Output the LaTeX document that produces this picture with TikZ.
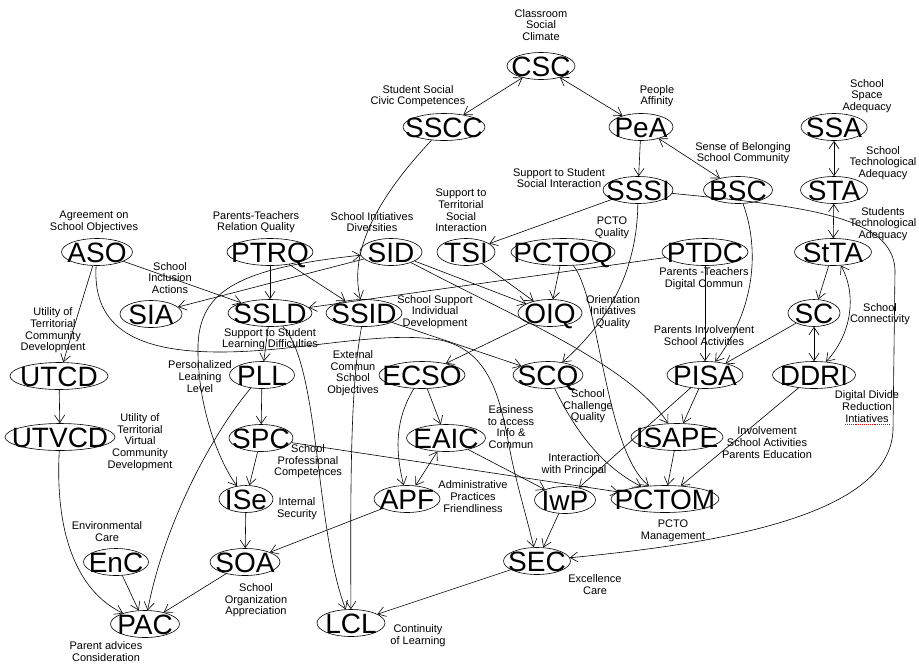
\documentclass[tikz,border=0pt]{standalone}
\usepackage{fontspec}
\setmainfont{Liberation Sans}
\usetikzlibrary{arrows.meta,shapes.geometric}
\newcommand\ntxt[1]{\fontsize{28}{28}\selectfont\smash{\raisebox{-0.36em}{\makebox[0pt]{#1}}}}
\begin{document}
\begin{tikzpicture}[x=1pt,y=-1pt,
  v/.style={draw, ellipse, inner sep=0pt, line width=0.6pt, minimum height=27pt},
  lab/.style={align=center, font=\fontsize{11}{11.6}\selectfont, inner sep=0pt},
  arr/.style={-{Straight Barb[length=7.5pt,width=10pt]}, line width=0.6pt},
  darr/.style={{Straight Barb[length=7.5pt,width=10pt]}-{Straight Barb[length=7.5pt,width=10pt]}, line width=0.6pt}]
\useasboundingbox (0,0) rectangle (919,665);
% nodes
\node[v, minimum width=68pt] (CSC) at (541,66) {\ntxt{CSC}};
\node[v, minimum width=82pt] (SSCC) at (444,127) {\ntxt{SSCC}};
\node[v, minimum width=64pt] (PeA) at (641,127) {\ntxt{PeA}};
\node[v, minimum width=70pt] (SSSI) at (638,190) {\ntxt{SSSI}};
\node[v, minimum width=69pt] (BSC) at (738,190) {\ntxt{BSC}};
\node[v, minimum width=66pt] (SSA) at (834,127) {\ntxt{SSA}};
\node[v, minimum width=67pt] (STA) at (834,190) {\ntxt{STA}};
\node[v, minimum width=77pt] (StTA) at (833,252) {\ntxt{StTA}};
\node[v, minimum width=71pt] (ASO) at (97,252) {\ntxt{ASO}};
\node[v, minimum width=86pt] (PTRQ) at (270,252) {\ntxt{PTRQ}};
\node[v, minimum width=62pt] (SID) at (391,252) {\ntxt{SID}};
\node[v, minimum width=58pt] (TSI) at (466,252) {\ntxt{TSI}};
\node[v, minimum width=104pt] (PCTOQ) at (563,252) {\ntxt{PCTOQ}};
\node[v, minimum width=86pt] (PTDC) at (705,252) {\ntxt{PTDC}};
\node[v, minimum width=62pt] (SIA) at (151,314) {\ntxt{SIA}};
\node[v, minimum width=84pt] (SSLD) at (270,313) {\ntxt{SSLD}};
\node[v, minimum width=76pt] (SSID) at (364,313) {\ntxt{SSID}};
\node[v, minimum width=64pt] (OIQ) at (550,313) {\ntxt{OIQ}};
\node[v, minimum width=52pt] (SC) at (814,313) {\ntxt{SC}};
\node[v, minimum width=98pt] (UTCD) at (59,376) {\ntxt{UTCD}};
\node[v, minimum width=65pt] (PLL) at (262,375) {\ntxt{PLL}};
\node[v, minimum width=86pt] (ECSO) at (422,375) {\ntxt{ECSO}};
\node[v, minimum width=70pt] (SCQ) at (548,375) {\ntxt{SCQ}};
\node[v, minimum width=76pt] (PISA) at (705,375) {\ntxt{PISA}};
\node[v, minimum width=83pt] (DDRI) at (814,375) {\ntxt{DDRI}};
\node[v, minimum width=110pt] (UTVCD) at (60,437) {\ntxt{UTVCD}};
\node[v, minimum width=64pt] (SPC) at (261,438) {\ntxt{SPC}};
\node[v, minimum width=79pt] (EAIC) at (446,438) {\ntxt{EAIC}};
\node[v, minimum width=92pt] (ISAPE) at (677,437) {\ntxt{ISAPE}};
\node[v, minimum width=54pt] (ISe) at (246,499) {\ntxt{ISe}};
\node[v, minimum width=66pt] (APF) at (407,499) {\ntxt{APF}};
\node[v, minimum width=61pt] (IwP) at (565,500) {\ntxt{IwP}};
\node[v, minimum width=108pt] (PCTOM) at (665,499) {\ntxt{PCTOM}};
\node[v, minimum width=65pt] (EnC) at (116,562) {\ntxt{EnC}};
\node[v, minimum width=70pt] (SOA) at (245,562) {\ntxt{SOA}};
\node[v, minimum width=67pt] (SEC) at (537,561) {\ntxt{SEC}};
\node[v, minimum width=69pt] (PAC) at (145,624) {\ntxt{PAC}};
\node[v, minimum width=68pt] (LCL) at (351,623) {\ntxt{LCL}};
% labels
\node[lab] (lCSC) at (541,25) {Classroom\\Social\\Climate};
\node[lab] (lSSCC) at (418,96) {Student Social\\Civic Competences};
\node[lab] (lPeA) at (657,96) {People\\Affinity};
\node[lab] (lBSC) at (743,153) {Sense of Belonging\\School Community};
\node[lab] (lSSA) at (867,96) {School\\Space\\Adequacy};
\node[lab] (lSTA) at (883,163) {School\\Technological\\Adequacy};
\node[lab] (lStTA) at (883,224) {Students\\Technological\\Adequacy};
\node[lab] (lSSSI) at (559,178) {Support to Student\\Social Interaction};
\node[lab] (lTSI) at (461,210.5) {Support to\\Territorial\\Social\\Interaction};
\node[lab] (lPCTOQ) at (612,228) {PCTO\\Quality};
\node[lab] (lSID) at (372,222) {School Initiatives\\Diversities};
\node[lab] (lASO) at (94,222) {Agreement on\\School Objectives};
\node[lab] (lPTRQ) at (256,222) {Parents-Teachers\\Relation Quality};
\node[lab] (lSIA) at (170,278) {School\\Inclusion\\Actions};
\node[lab] (lPTDC) at (704,278.5) {Parents -Teachers\\Digital Commun};
\node[lab] (lSSID) at (435,312) {School Support\\Individual\\Development};
\node[lab] (lOIQ) at (613,312) {Orientation\\Initiatives\\Quality};
\node[lab] (lPISA) at (704,335.5) {Parents Involvement\\School Activities};
\node[lab] (lSC) at (880,314) {School\\Connectivity};
\node[lab] (lUTCD) at (53,330.5) {Utility of\\Territorial\\Community\\Development};
\node[lab] (lSSLD) at (270,339) {Support to Student\\Learning Difficulties};
\node[lab] (lPLL) at (200,376.5) {Personalized\\Learning\\Level};
\node[lab] (lECSO) at (353,373) {External\\Commun\\School\\Objectives};
\node[lab] (lSCQ) at (588,406.5) {School\\Challenge\\Quality};
\node[lab] (lEAIC) at (511,427) {Easiness\\to access\\Info \&\\Commun};
\node[lab] (lDDRI) at (867,406.5) {Digital Divide\\Reduction\\Intiatives};
\node[lab] (lUTVCD) at (140,442) {Utility of\\Territorial\\Virtual\\Community\\Development};
\node[lab] (lSPC) at (308,461.5) {School\\Professional\\Competences};
\node[lab] (lISAPE) at (767,442.5) {Involvement\\School Activities\\Parents Education};
\node[lab] (lIwP) at (574,464.5) {Interaction\\with Principal};
\node[lab] (lAPF) at (473,496.5) {Administrative\\Practices\\Friendliness};
\node[lab] (lISe) at (297,508.5) {Internal\\Security};
\node[lab] (lPCTOM) at (673,531) {PCTO\\Management};
\node[lab] (lEnC) at (107,531.5) {Environmental\\Care};
\node[lab] (lSOA) at (256,600.5) {School\\Organization\\Appreciation};
\node[lab] (lSEC) at (595,584.5) {Excellence\\Care};
\node[lab] (lPAC) at (106,651.5) {Parent advices\\Consideration};
\node[lab] (lLCL) at (418,635.5) {Continuity\\of Learning};
\draw[red!85!black, densely dotted, line width=0.9pt] (845,424.5) -- (889,424.5);
% edges
\draw[darr] (CSC) -- (SSCC);
\draw[darr] (CSC) -- (PeA);
\draw[arr] (PeA) -- (SSSI);
\draw[darr] (PeA) -- (BSC);
\draw[darr] (SSA) -- (STA);
\draw[darr] (STA) -- (StTA);
\draw[arr] (StTA) -- (SC);
\draw[darr] (SC) -- (DDRI);
\draw[darr] (DDRI) .. controls (855,330) and (855,290) .. (StTA);
\draw[arr] (SC) -- (PISA);
\draw[arr] (PTDC) -- (PISA);
\draw[arr] (BSC) .. controls (760,250) and (755,310) .. (PISA);
\draw[arr] (SSSI) .. controls (800,206) and (893,215) .. (895,270) -- (893,430) .. controls (890,520) and (700,545) .. (SEC);
\draw[arr] (SSSI) -- (TSI);
\draw[arr] (SSSI) .. controls (637,270) and (610,320) .. (SCQ);
\draw[arr] (SSCC) .. controls (380,195) and (348,250) .. (SSID);
\draw[arr] (TSI) -- (OIQ);
\draw[arr] (PCTOQ) -- (OIQ);
\draw[arr] (SID) -- (OIQ);
\draw[arr] (SID) .. controls (520,320) and (630,365) .. (ISAPE);
\draw[arr] (OIQ) -- (ECSO);
\draw[arr] (SSID) -- (SCQ);
\draw[arr] (PCTOQ) .. controls (600,300) and (605,450) .. (PCTOM);
\draw[arr] (SCQ) .. controls (575,430) and (600,465) .. (PCTOM);
\draw[arr] (PISA) -- (IwP);
\draw[arr] (DDRI) -- (PCTOM);
\draw[arr] (ISAPE) -- (PCTOM);
\draw[arr] (PISA) -- (ISAPE);
\draw[arr] (PTRQ) -- (SSLD);
\draw[arr] (PTRQ) -- (SSID);
\draw[arr] (ASO) -- (SSLD);
\draw[arr] (SID) -- (SIA);
\draw[darr] (SID) .. controls (240,268) and (200,290) .. (198,345) .. controls (197,400) and (215,455) .. (ISe);
\draw[arr] (PTDC) -- (SSLD);
\draw[arr] (ASO) -- (UTCD);
\draw[arr] (ASO) .. controls (92,330) and (140,352) .. (220,352) .. controls (300,352) and (380,330) .. (440,340) .. controls (490,350) and (500,400) .. (508,440) .. controls (515,480) and (525,510) .. (SEC);
\draw[arr] (EAIC) -- (IwP);
\draw[arr] (ECSO) -- (EAIC);
\draw[arr] (ECSO) .. controls (395,420) and (395,450) .. (APF);
\draw[darr] (EAIC) -- (APF);
\draw[arr] (APF) -- (SOA);
\draw[arr] (SOA) -- (PAC);
\draw[arr] (EnC) -- (PAC);
\draw[arr] (UTVCD) .. controls (55,530) and (75,590) .. (PAC);
\draw[arr] (PLL) .. controls (215,430) and (165,520) .. (PAC);
\draw[arr] (UTCD) -- (UTVCD);
\draw[arr] (PLL) -- (SPC);
\draw[arr] (SPC) -- (ISe);
\draw[arr] (ISe) -- (SOA);
\draw[arr] (SEC) -- (LCL);
\draw[arr] (SSID) .. controls (352,380) and (350,450) .. (LCL);
\draw[arr] (SSLD) .. controls (320,365) and (315,530) .. (LCL);
\draw[arr] (SSLD) -- (PLL);
\draw[arr] (IwP) -- (SEC);
\draw[arr] (SPC) -- (PCTOM);
\end{tikzpicture}
\end{document}
